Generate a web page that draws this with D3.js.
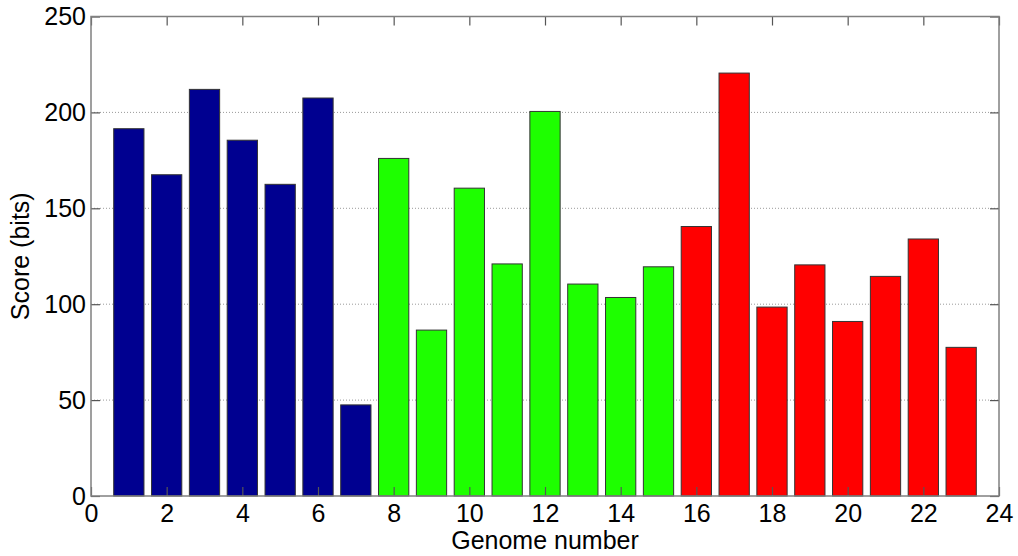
<!DOCTYPE html>
<html>
<head>
<meta charset="utf-8">
<script src="https://cdn.jsdelivr.net/npm/d3@7"></script>
<style>
  body { margin: 0; background: #fff; }
  text { font-family: "Liberation Sans", Arial, sans-serif; fill: #000; }
</style>
</head>
<body>
<div id="chart"></div>
<script>
// data
const genomes = [1, 2, 3, 4, 5, 6, 7, 8, 9, 10, 11, 12, 13, 14, 15, 16, 17, 18, 19, 20, 21, 22, 23];
const scores = [191.5, 167.5, 212, 185.5, 162.5, 207.5, 47.5, 176, 86.5, 160.5, 121, 200.5,
                110.5, 103.5, 119.5, 140.5, 220.5, 98.5, 120.5, 91, 114.5, 134, 77.5];
const groups = ["a", "a", "a", "a", "a", "a", "a", "b", "b", "b", "b", "b", "b", "b", "b",
                "c", "c", "c", "c", "c", "c", "c", "c"];
const xTicks = [0, 2, 4, 6, 8, 10, 12, 14, 16, 18, 20, 22, 24];
const yTicks = [0, 50, 100, 150, 200, 250];

const width = 1018, height = 556;
const margin = { top: 16.5, right: 19, bottom: 60, left: 91 };
const w = width - margin.left - margin.right;
const h = height - margin.top - margin.bottom;

const color = d3.scaleOrdinal().domain(["a", "b", "c"]).range(["#000090", "#1eff00", "#ff0000"]);

const svg = d3.select("#chart").append("svg")
  .attr("width", width).attr("height", height);
const g = svg.append("g").attr("transform", "translate(" + margin.left + "," + margin.top + ")");

const x = d3.scaleLinear().domain([0, 24]).range([0, w]);
const y = d3.scaleLinear().domain([0, 250]).range([h, 0]);

// dotted horizontal grid
g.selectAll(".grid").data(yTicks.filter(d => d > 0 && d < 250)).enter()
  .append("line")
  .attr("x1", 0).attr("x2", w)
  .attr("y1", d => y(d)).attr("y2", d => y(d))
  .attr("stroke", "#9a9a9a")
  .attr("stroke-width", 1)
  .attr("stroke-dasharray", "1,2");

// bars
const bw = 0.8;
g.selectAll(".bar").data(genomes).enter()
  .append("rect")
  .attr("x", (d) => x(d - bw / 2))
  .attr("width", x(bw) - x(0))
  .attr("y", (d, i) => y(scores[i]))
  .attr("height", (d, i) => y(0) - y(scores[i]))
  .attr("fill", (d, i) => color(groups[i]))
  .attr("stroke", "#333")
  .attr("stroke-width", 1);

// axes, ticks pointing inward
const fs = "25px";
const axBottom = g.append("g").attr("transform", "translate(0," + h + ")")
  .call(d3.axisBottom(x).tickValues(xTicks).tickSizeInner(-9).tickSizeOuter(0).tickPadding(8));
const axLeft = g.append("g")
  .call(d3.axisLeft(y).tickValues(yTicks).tickSizeInner(-9).tickSizeOuter(0).tickPadding(5));
const axTop = g.append("g")
  .call(d3.axisTop(x).tickValues(xTicks).tickSizeInner(-9).tickSizeOuter(0).tickFormat(""));
const axRight = g.append("g").attr("transform", "translate(" + w + ",0)")
  .call(d3.axisRight(y).tickValues(yTicks).tickSizeInner(-9).tickSizeOuter(0).tickFormat(""));

[axBottom, axLeft, axTop, axRight].forEach(a => {
  a.select(".domain").remove();
  a.selectAll(".tick line").attr("stroke", "#555").attr("stroke-width", 1.2);
  a.selectAll("text").style("font-size", fs).attr("fill", "#000");
});

// box
g.append("rect")
  .attr("width", w).attr("height", h)
  .attr("fill", "none")
  .attr("stroke", "#808080")
  .attr("stroke-width", 1.5);

// labels
svg.append("text")
  .attr("x", margin.left + x(12)).attr("y", 549)
  .attr("text-anchor", "middle")
  .style("font-size", fs)
  .text("Genome number");

svg.append("text")
  .attr("transform", "translate(29," + (margin.top + h / 2) + ") rotate(-90)")
  .attr("text-anchor", "middle")
  .style("font-size", fs)
  .text("Score (bits)");
</script>
</body>
</html>
